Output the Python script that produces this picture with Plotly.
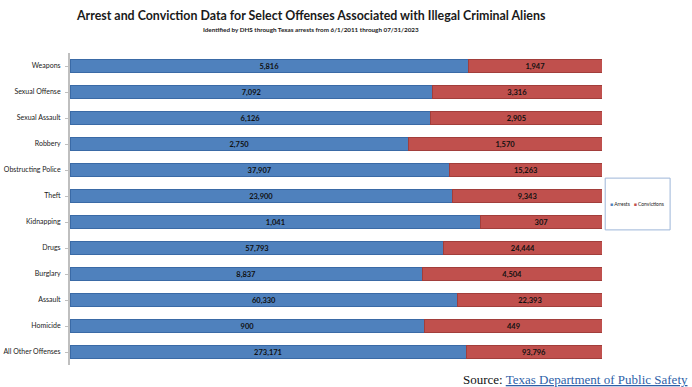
import plotly.graph_objects as go

categories = ["Weapons", "Sexual Offense", "Sexual Assault", "Robbery", "Obstructing Police",
              "Theft", "Kidnapping", "Drugs", "Burglary", "Assault", "Homicide", "All Other Offenses"]
arrests = [5816, 7092, 6126, 2750, 37907, 23900, 1041, 57793, 8837, 60330, 900, 273171]
convictions = [1947, 3316, 2905, 1570, 15263, 9343, 307, 24444, 4504, 22393, 449, 93796]
series_names = ["Arrests", "Convictions"]

blue = "#4F81BD"
red = "#C0504D"

fig = go.Figure()
fig.add_trace(go.Bar(
    y=categories, x=arrests, orientation="h", name=series_names[0],
    marker=dict(color=blue, line=dict(color="#3A6AA6", width=1)),
    text=[f"<b>{v:,}</b>" for v in arrests], textposition="inside", insidetextanchor="middle",
    textfont=dict(family="Lato", size=7.5, color="#111111"), textangle=0,
    constraintext="none", hoverinfo="skip",
))
fig.add_trace(go.Bar(
    y=categories, x=convictions, orientation="h", name=series_names[1],
    marker=dict(color=red, line=dict(color="#A23E3B", width=1)),
    text=[f"<b>{v:,}</b>" for v in convictions], textposition="inside", insidetextanchor="middle",
    textfont=dict(family="Lato", size=7.5, color="#111111"), textangle=0,
    constraintext="none", hoverinfo="skip",
))

legend_text = (f"<span style='color:{blue}'>■</span> {series_names[0]}   "
               f"<span style='color:{red}'>■</span> {series_names[1]}")

fig.update_layout(
    width=692, height=387,
    barmode="stack", barnorm="fraction", bargap=0.52,
    paper_bgcolor="white", plot_bgcolor="white",
    margin=dict(l=70, r=90, t=53, b=22, autoexpand=False),
    font=dict(family="Lato", color="#222222"),
    showlegend=False,
    xaxis=dict(visible=False, range=[0, 1.0]),
    yaxis=dict(
        autorange="reversed", showline=True, linecolor="#BFBFBF", linewidth=2,
        ticks="outside", ticklen=3, tickcolor="#BFBFBF", showgrid=False,
        tickfont=dict(family="Lato", size=7, color="#1a1a1a"), ticklabelstandoff=3,
    ),
    shapes=[dict(type="rect", xref="paper", yref="paper", x0=1.006, x1=1.128, y0=0.433, y1=0.599,
                 line=dict(color="#9DB5D8", width=1))],
    annotations=[
        dict(text="<b>Arrest and Conviction Data for Select Offenses Associated with Illegal Criminal Aliens</b>",
             xref="paper", yref="paper", x=(311 - 70) / 532, y=(365 - 16) / 312,
             xanchor="center", yanchor="middle", showarrow=False,
             font=dict(family="Lato", size=12.4, color="#1a1a1a")),
        dict(text="<b>Identified by DHS through Texas arrests from 6/1/2011 through 07/31/2023</b>",
             xref="paper", yref="paper", x=(311 - 70) / 532, y=(365 - 29) / 312,
             xanchor="center", yanchor="middle", showarrow=False,
             font=dict(family="Lato", size=6.3, color="#1a1a1a")),
        dict(text=legend_text, xref="paper", yref="paper", x=1.066, y=0.516,
             xanchor="center", yanchor="middle", showarrow=False,
             font=dict(family="Lato", size=5, color="#222222")),
        dict(text="Source: <a href='https://www.dps.texas.gov/' style='color:#2E5FA8'><u>Texas Department of Public Safety</u></a>",
             xref="paper", yref="paper", x=1.165, y=-0.048, xanchor="right", yanchor="middle",
             showarrow=False, font=dict(family="Liberation Serif", size=13, color="#111111")),
    ],
)

fig.write_html("out.html", config={"displayModeBar": False},
               post_script="document.body.style.margin='0px';")
